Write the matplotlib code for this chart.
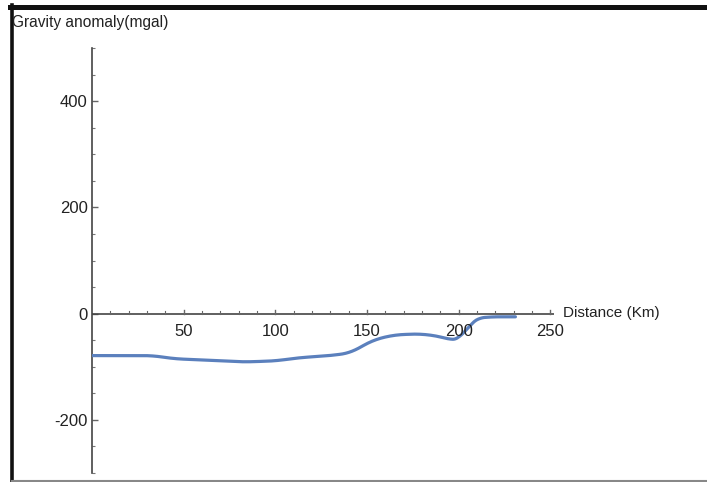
import numpy as np
import matplotlib
matplotlib.use('Agg')
import matplotlib.pyplot as plt
from matplotlib.lines import Line2D
from matplotlib.ticker import MultipleLocator

plt.rcParams['font.family'] = ['Liberation Sans Narrow', 'Liberation Sans', 'DejaVu Sans']

# profile along the line (km, mgal)
distance = [0, 33, 45, 59, 83, 100, 113, 130, 141, 149, 154, 165, 179, 190, 197, 202, 205, 209, 217, 231]
anomaly = [-79, -79, -85, -87, -91, -89, -83, -79, -74, -58, -49, -40, -38, -43, -51, -47, -23, -9, -6, -6]

x_ticks = [50, 100, 150, 200, 250]
y_ticks = [-200, 0, 200, 400]

W, H = 707, 482
fig = plt.figure(figsize=(W / 100, H / 100), dpi=100)

# axes placed so that x=0 sits at the left spine and y runs -300..500
x0_px, px_per_km = 92, 1.833
y_top_px, y_bot_px = 48, 473
xmax = 252
ax = fig.add_axes([x0_px / W, (H - y_bot_px) / H,
                   xmax * px_per_km / W, (y_bot_px - y_top_px) / H])
ax.set_xlim(0, xmax)
ax.set_ylim(-300, 500)

xs = np.linspace(distance[0], distance[-1], 400)
ys = np.interp(xs, distance, anomaly)
k = 9
ys_s = np.convolve(np.pad(ys, k, mode='edge'), np.ones(2 * k + 1) / (2 * k + 1), mode='same')[k:-k]
ax.plot(xs, ys_s, color='#5b80bd', lw=2.3, solid_capstyle='round', zorder=3)

for s in ['top', 'right', 'bottom']:
    ax.spines[s].set_visible(False)
ax.spines['left'].set_color('#444444')
ax.spines['left'].set_linewidth(1.2)
# horizontal axis through zero
ax.axhline(0, color='#444444', lw=1.2, zorder=2)

ax.set_xticks([])
ax.yaxis.set_minor_locator(MultipleLocator(50))
ax.set_yticks(y_ticks)
ax.tick_params(axis='y', which='major', direction='in', length=4, width=1, color='#666666',
               labelsize=12, labelcolor='#222222', pad=3)
ax.tick_params(axis='y', which='minor', direction='in', length=2.5, width=0.8, color='#777777')
ax.set_yticklabels([str(v) for v in y_ticks])

# ticks on the zero line
for v in range(10, 251, 10):
    major = v % 50 == 0
    ax.plot([v, v], [0, 7 if major else 5], color='#666666', lw=1 if major else 0.8,
            clip_on=False, zorder=2)
for v in x_ticks:
    ax.text(v, -20, str(v), ha='center', va='top', fontsize=12, color='#222222')

ax.text(257, 2, 'Distance (Km)', ha='left', va='center', fontsize=11, color='#222222')
fig.text(12 / W, 1 - 22 / H, 'Gravity anomaly(mgal)', ha='left', va='center',
         fontsize=11.2, color='#222222')

# surrounding frame
fig.add_artist(Line2D([10 / W, 1], [1 - 6.5 / H] * 2, color='#111111', lw=3.6))
fig.add_artist(Line2D([12 / W] * 2, [0, 1 - 4.5 / H], color='#111111', lw=2.6))
fig.add_artist(Line2D([12 / W, 1], [1.5 / H] * 2, color='#888888', lw=1.5))

fig.savefig('out.png', dpi=100)
